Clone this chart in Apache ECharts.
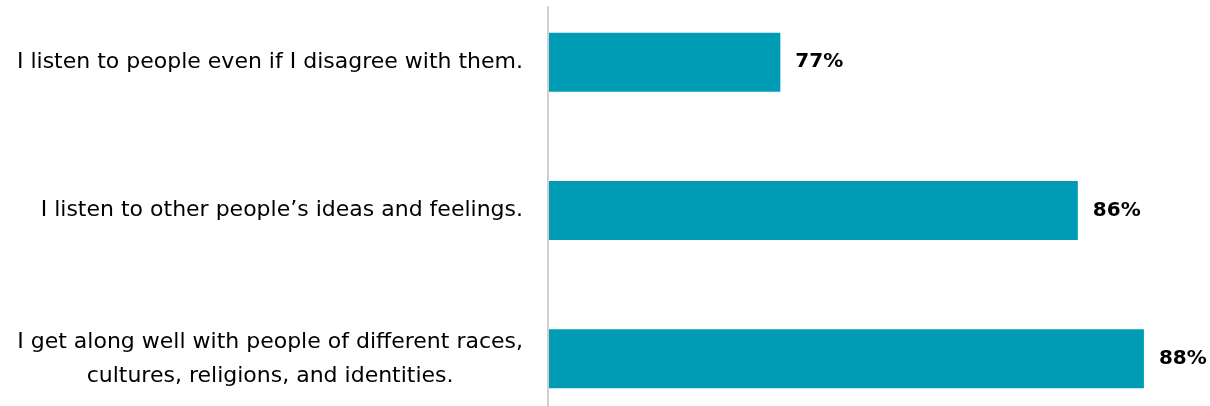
<!DOCTYPE html>
<html>
<head>
<meta charset="utf-8">
<style>
  html, body { margin: 0; padding: 0; background: #fff; }
  #chart { width: 1210px; height: 406px; }
</style>
<script src="https://cdn.jsdelivr.net/npm/echarts@6/dist/echarts.min.js"></script>
</head>
<body>
<div id="chart"></div>
<script>
// Survey statements and share of respondents agreeing
const statements = [
  'I listen to people even if I disagree with them.',
  'I listen to other people\u2019s ideas and feelings.',
  'I get along well with people of different races,\ncultures, religions, and identities.'
];
const agreePct = [77, 86, 88];

const FONT = '"DejaVu Sans", sans-serif';
const chart = echarts.init(document.getElementById('chart'));

chart.setOption({
  animation: false,
  grid: [
    { left: 549, right: 0, top: -12, height: 445, outerBoundsMode: 'none', containLabel: false },
    // thin grid carrying only the vertical baseline
    { left: 548, width: 1, top: 7, bottom: 0, outerBoundsMode: 'none' }
  ],
  xAxis: [
    { type: 'value', min: 70, max: 90, show: false },
    { type: 'value', gridIndex: 1, show: false }
  ],
  yAxis: [
    {
      type: 'category',
      data: statements,
      inverse: true,
      axisLine: { show: false },
      axisTick: { show: false },
      axisLabel: {
        margin: 26,
        fontFamily: FONT,
        fontSize: 22,
        color: '#000',
        lineHeight: 34,
        // each line centred within the right-aligned label block
        formatter: v => v.split('\n').map(s => '{c|' + s + '}').join('\n'),
        rich: { c: { align: 'center', fontFamily: FONT, fontSize: 22, color: '#000', lineHeight: 34 } }
      }
    },
    {
      type: 'value',
      gridIndex: 1,
      axisLine: { show: true, lineStyle: { color: '#d0d0d0', width: 2 } },
      axisTick: { show: false },
      axisLabel: { show: false },
      splitLine: { show: false }
    }
  ],
  series: [{
    type: 'bar',
    data: agreePct,
    barWidth: 59,
    itemStyle: { color: '#009cb5' },
    label: {
      show: true,
      position: 'right',
      distance: 15,
      formatter: '{c}%',
      fontFamily: FONT,
      fontSize: 20,
      fontWeight: 'bold',
      color: '#000'
    }
  }]
});
</script>
</body>
</html>
